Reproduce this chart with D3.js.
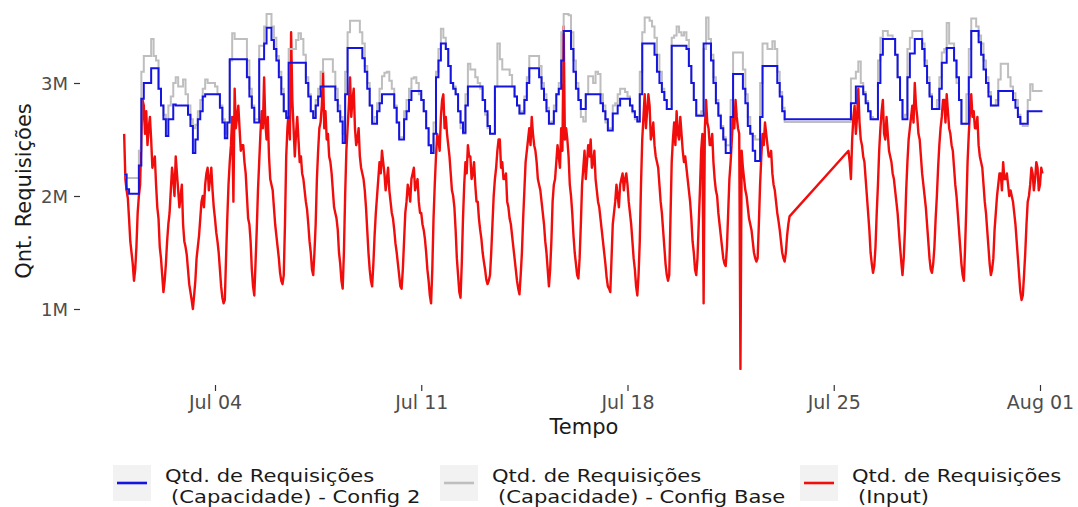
<!DOCTYPE html>
<html>
<head>
<meta charset="utf-8">
<script src="https://cdn.jsdelivr.net/npm/d3@7"></script>
<style>
  body { margin: 0; background: #fff; }
  svg { display: block; }
  text { font-family: "DejaVu Sans", sans-serif; }
</style>
</head>
<body>
<svg id="chart" width="1078" height="507"></svg>
<script>
// Series sampled every 2 hours (UTC), values in millions of requests.
const seriesStart = "2021-06-30T22:00:00Z";
const stepHours = 2;

// Input requests at even hours; null marks hours with no data (the line bridges them).
const inputReq = [
  2.55,
  /* Jul 01 */ 2.05,1.8,1.5,1.25,1.55,2.0,2.5,2.8,2.75,2.6,2.5,2.3,
  /* Jul 02 */ 2.1,1.8,1.45,1.15,1.4,1.75,2.05,2.15,2.35,2.05,2.0,1.75,
  /* Jul 03 */ 1.55,1.35,1.15,1.0,1.25,1.55,1.8,2.0,2.1,2.25,2.15,2.05,
  /* Jul 04 */ 1.8,1.6,1.35,1.1,1.08,1.8,2.3,2.7,2.95,2.7,2.6,2.45,
  /* Jul 05 */ 2.3,2.0,1.75,1.35,1.12,1.7,2.3,2.75,3.05,2.5,2.35,2.1,
  /* Jul 06 */ 1.9,1.65,1.45,1.25,1.3,2.35,2.75,3.45,2.6,2.55,2.5,2.35,
  /* Jul 07 */ 2.15,1.95,1.75,1.5,1.3,1.75,2.4,2.65,3.1,2.75,2.55,2.3,
  /* Jul 08 */ 2.05,1.85,1.7,1.4,1.18,2.0,2.6,3.05,2.85,2.6,2.5,2.35,
  /* Jul 09 */ 2.2,2.05,1.7,1.35,1.2,1.65,2.0,2.3,2.4,2.2,2.15,2.05,
  /* Jul 10 */ 1.85,1.7,1.5,1.3,1.18,1.6,1.95,2.05,2.15,2.25,2.1,1.95,
  /* Jul 11 */ 1.85,1.7,1.5,1.25,1.05,1.8,2.35,2.5,2.7,2.9,2.7,2.45,
  /* Jul 12 */ 2.2,2.0,1.7,1.3,1.1,1.8,2.3,2.45,2.35,2.2,2.1,1.95,
  /* Jul 13 */ 1.7,1.5,1.35,1.22,1.3,1.75,2.15,2.4,2.5,2.3,2.15,1.95,
  /* Jul 14 */ 1.8,1.65,1.45,1.25,1.13,1.5,2.05,2.4,2.6,2.7,2.45,2.3,
  /* Jul 15 */ 2.1,1.95,1.75,1.5,1.2,1.6,2.1,2.3,2.35,2.6,3.5,2.6,
  /* Jul 16 */ 2.35,2.0,1.65,1.4,1.27,1.75,2.25,2.15,2.45,2.5,2.3,2.15,
  /* Jul 17 */ 1.95,1.8,1.6,1.4,1.2,1.15,1.75,1.95,2.0,2.1,2.2,2.15,
  /* Jul 18 */ 2.1,1.85,1.6,1.35,1.12,1.6,2.5,2.9,2.75,2.8,2.55,2.45,
  /* Jul 19 */ 2.3,2.1,1.85,1.55,1.3,1.3,2.3,2.65,2.75,2.5,2.55,2.3,
  /* Jul 20 */ 2.25,2.05,1.8,1.5,1.3,1.75,2.4,1.05,2.85,2.6,2.45,2.3,
  /* Jul 21 */ 2.05,1.85,1.65,1.45,1.38,1.85,2.3,2.7,2.85,2.6,0.47,2.25,
  /* Jul 22 */ 2.05,1.9,1.75,1.6,1.45,1.45,2.1,2.55,2.65,2.45,2.35,2.2,
  /* Jul 23 */ 2.05,1.85,1.7,1.5,1.42,1.65,1.82,null,null,null,null,null,
  /* Jul 24 */ null,null,null,null,null,null,null,null,null,null,null,null,
  /* Jul 25 */ null,null,null,null,null,null,2.4,2.15,2.7,2.55,2.95,2.5,
  /* Jul 26 */ 2.35,2.15,1.85,1.5,1.32,1.55,2.1,2.6,2.85,2.5,2.55,2.35,
  /* Jul 27 */ 2.2,2.05,1.85,1.55,1.3,1.7,2.3,2.6,2.8,3.0,2.7,2.5,
  /* Jul 28 */ 2.2,2.0,1.75,1.45,1.32,1.55,2.0,2.45,2.7,2.85,2.9,2.6,
  /* Jul 29 */ 2.45,2.25,2.0,1.7,1.4,1.25,1.9,2.55,2.9,2.75,2.6,2.45,
  /* Jul 30 */ 2.3,2.1,1.85,1.55,1.3,1.45,1.85,2.1,2.2,2.3,2.15,2.1,
  /* Jul 31 */ 2.05,1.95,1.75,1.45,1.15,1.12,1.5,1.95,2.1,2.2,2.15,2.25,
  /* Aug 01 */ 2.1,2.2
];

// Input requests at the odd hours in between (hourly jitter).
const inputReqOdd = [
  2.15,
  /* Jul 01 */ 1.98,1.6,1.4,1.35,1.85,2.1,2.85,2.55,2.45,2.7,2.25,2.35,
  /* Jul 02 */ 1.9,1.55,1.3,1.25,1.6,1.85,2.25,2.0,2.2,1.9,2.1,1.6,
  /* Jul 03 */ 1.48,1.22,1.08,1.12,1.45,1.65,1.95,1.9,2.2,2.05,2.25,1.9,
  /* Jul 04 */ 1.68,1.5,1.2,1.05,1.45,2.1,2.45,1.95,2.6,2.8,2.4,2.45,
  /* Jul 05 */ 2.2,1.8,1.6,1.2,1.4,2.05,2.55,2.6,2.65,2.7,2.15,2.05,
  /* Jul 06 */ 1.75,1.55,1.32,1.22,1.75,2.6,2.5,2.85,2.35,2.7,2.3,2.2,
  /* Jul 07 */ 2.05,1.88,1.6,1.35,1.5,2.15,2.6,2.8,2.6,2.5,2.35,2.2,
  /* Jul 08 */ 1.9,1.8,1.5,1.25,1.5,2.4,2.8,2.7,2.95,2.45,2.6,2.25,
  /* Jul 09 */ 2.15,1.9,1.5,1.25,1.4,1.85,2.15,2.2,2.3,2.05,2.25,1.95,
  /* Jul 10 */ 1.8,1.58,1.4,1.2,1.35,1.85,2.1,1.95,2.2,2.05,2.15,1.85,
  /* Jul 11 */ 1.75,1.62,1.35,1.12,1.35,2.1,2.55,2.4,2.85,2.6,2.55,2.35,
  /* Jul 12 */ 2.05,1.9,1.45,1.15,1.4,2.1,2.2,2.35,2.15,2.3,1.95,1.8,
  /* Jul 13 */ 1.62,1.42,1.26,1.25,1.5,2.0,2.25,2.5,2.25,2.15,2.2,1.9,
  /* Jul 14 */ 1.75,1.55,1.35,1.18,1.3,1.8,2.3,2.5,2.45,2.55,2.4,2.15,
  /* Jul 15 */ 2.05,1.85,1.6,1.35,1.35,1.95,2.15,2.45,2.25,2.4,2.5,2.5,
  /* Jul 16 */ 2.1,1.85,1.5,1.3,1.45,2.1,2.4,2.3,2.35,2.25,2.4,2.05,
  /* Jul 17 */ 1.9,1.7,1.5,1.28,1.18,1.45,1.85,2.1,1.9,2.15,2.05,2.2,
  /* Jul 18 */ 1.95,1.75,1.45,1.2,1.3,2.1,2.7,2.6,2.9,2.5,2.65,2.35,
  /* Jul 19 */ 2.25,1.95,1.7,1.4,1.25,1.8,2.5,2.45,2.55,2.7,2.4,2.35,
  /* Jul 20 */ 2.15,1.95,1.6,1.35,1.45,2.05,2.55,2.6,2.65,2.45,2.55,2.15,
  /* Jul 21 */ 2.0,1.75,1.55,1.4,1.55,2.15,2.5,2.6,2.7,2.55,2.4,2.15,
  /* Jul 22 */ 2.0,1.8,1.7,1.5,1.42,1.75,2.35,2.45,2.55,2.35,2.4,2.1,
  /* Jul 23 */ 1.95,1.78,1.6,1.45,1.5,1.75,null,null,null,null,null,null,
  /* Jul 24 */ null,null,null,null,null,null,null,null,null,null,null,null,
  /* Jul 25 */ null,null,null,null,null,null,2.3,2.5,2.8,2.7,2.65,2.45,
  /* Jul 26 */ 2.3,2.0,1.7,1.4,1.38,1.85,2.4,2.75,2.55,2.7,2.4,2.3,
  /* Jul 27 */ 2.15,1.95,1.7,1.42,1.45,2.05,2.5,2.7,2.65,2.8,2.55,2.35,
  /* Jul 28 */ 2.1,1.9,1.6,1.35,1.4,1.8,2.25,2.6,2.85,2.65,2.75,2.55,
  /* Jul 29 */ 2.4,2.1,1.85,1.55,1.3,1.55,2.3,2.75,2.7,2.6,2.7,2.35,
  /* Jul 30 */ 2.25,1.95,1.7,1.4,1.35,1.7,2.0,2.2,2.05,2.15,2.2,2.0,
  /* Jul 31 */ 2.0,1.85,1.6,1.3,1.08,1.3,1.75,2.0,2.25,2.05,2.3,2.05,
  /* Aug 01 */ 2.25
];

// Provisioned capacity, Config 2 (held constant between samples).
const capConfig2 = [
  2.19,
  /* Jul 01 */ 2.06,2.02,2.02,2.02,2.02,2.27,2.86,3.0,3.0,3.0,3.13,3.13,
  /* Jul 02 */ 3.13,2.95,2.8,2.68,2.53,2.68,2.68,2.81,2.8,2.8,2.8,2.8,
  /* Jul 03 */ 2.8,2.72,2.62,2.38,2.5,2.68,2.75,2.88,2.9,2.9,2.9,2.9,
  /* Jul 04 */ 2.9,2.9,2.78,2.65,2.51,2.65,3.21,3.21,3.21,3.21,3.21,3.21,
  /* Jul 05 */ 3.21,3.05,2.88,2.78,2.65,2.65,3.21,3.21,3.35,3.49,3.49,3.38,
  /* Jul 06 */ 3.3,3.2,3.05,2.9,2.75,2.69,3.18,3.18,3.18,3.18,3.18,3.18,
  /* Jul 07 */ 3.18,3.0,2.88,2.75,2.69,2.8,2.88,2.97,2.97,2.97,2.97,2.97,
  /* Jul 08 */ 2.97,2.85,2.75,2.66,2.47,2.9,3.31,3.31,3.31,3.31,3.31,3.31,
  /* Jul 09 */ 3.22,3.1,2.95,2.8,2.64,2.64,2.75,2.82,2.9,2.9,2.9,2.9,
  /* Jul 10 */ 2.9,2.78,2.65,2.5,2.5,2.68,2.75,2.85,2.93,2.93,2.93,2.93,
  /* Jul 11 */ 2.85,2.75,2.6,2.45,2.38,2.55,3.05,3.2,3.35,3.35,3.3,3.15,
  /* Jul 12 */ 3.0,2.95,2.9,2.75,2.65,2.56,2.8,2.97,2.97,2.97,2.97,2.97,
  /* Jul 13 */ 2.97,2.85,2.75,2.62,2.55,2.55,2.97,2.97,2.97,2.97,2.97,2.97,
  /* Jul 14 */ 2.97,2.97,2.88,2.8,2.73,2.73,2.85,3.0,3.13,3.13,3.13,3.13,
  /* Jul 15 */ 3.05,2.95,2.85,2.75,2.64,2.64,2.75,2.9,2.95,3.2,3.46,3.46,
  /* Jul 16 */ 3.46,3.3,3.1,2.95,2.85,2.77,2.77,2.9,2.9,2.9,2.9,2.9,
  /* Jul 17 */ 2.9,2.82,2.75,2.68,2.58,2.58,2.73,2.73,2.8,2.86,2.86,2.86,
  /* Jul 18 */ 2.86,2.8,2.75,2.7,2.66,2.9,3.35,3.35,3.35,3.35,3.35,3.25,
  /* Jul 19 */ 3.1,3.0,2.92,2.85,2.77,2.77,3.33,3.33,3.33,3.33,3.33,3.33,
  /* Jul 20 */ 3.3,3.15,3.0,2.85,2.71,2.71,2.71,3.35,3.35,3.35,3.2,3.0,
  /* Jul 21 */ 2.82,2.71,2.6,2.5,2.38,2.38,2.7,3.08,3.08,3.08,3.08,2.95,
  /* Jul 22 */ 2.82,2.62,2.55,2.4,2.31,2.31,2.7,3.15,3.15,3.15,3.15,3.15,
  /* Jul 23 */ 3.15,3.0,2.88,2.75,2.68,2.68,2.68,2.68,2.68,2.68,2.68,2.68,
  /* Jul 24 */ 2.68,2.68,2.68,2.68,2.68,2.68,2.68,2.68,2.68,2.68,2.68,2.68,
  /* Jul 25 */ 2.68,2.68,2.68,2.68,2.68,2.68,2.68,2.82,2.82,2.97,2.97,2.97,
  /* Jul 26 */ 2.9,2.82,2.75,2.68,2.68,2.68,3.0,3.25,3.39,3.39,3.39,3.39,
  /* Jul 27 */ 3.39,3.25,3.05,2.85,2.68,2.68,3.05,3.26,3.26,3.39,3.39,3.39,
  /* Jul 28 */ 3.3,3.15,3.0,2.88,2.77,2.77,2.77,2.95,3.18,3.18,3.31,3.31,
  /* Jul 29 */ 3.31,3.2,3.05,2.85,2.64,2.64,2.64,3.05,3.46,3.46,3.46,3.36,
  /* Jul 30 */ 3.25,3.12,3.0,2.88,2.8,2.8,2.8,2.93,2.93,2.93,2.93,2.93,
  /* Jul 31 */ 2.93,2.85,2.78,2.7,2.64,2.64,2.64,2.75,2.75,2.75,2.75,2.75,
  /* Aug 01 */ 2.75,2.75
];

// Provisioned capacity, base configuration.
const capConfigBase = [
  2.19,
  /* Jul 01 */ 2.16,2.16,2.16,2.16,2.16,2.4,3.1,3.24,3.24,3.24,3.39,3.24,
  /* Jul 02 */ 3.2,2.95,2.8,2.72,2.68,2.8,2.88,3.0,3.05,2.97,2.97,3.03,
  /* Jul 03 */ 2.9,2.8,2.68,2.6,2.63,2.75,2.85,2.95,3.03,3.0,3.0,3.0,
  /* Jul 04 */ 2.97,2.9,2.8,2.68,2.55,2.65,3.2,3.44,3.39,3.39,3.39,3.39,
  /* Jul 05 */ 3.39,3.2,2.95,2.8,2.68,2.68,3.33,3.33,3.5,3.61,3.61,3.5,
  /* Jul 06 */ 3.4,3.24,3.1,2.95,2.75,2.72,3.3,3.3,3.3,3.38,3.44,3.39,
  /* Jul 07 */ 3.25,3.05,2.9,2.75,2.7,2.85,2.95,3.1,3.21,3.21,3.21,3.21,
  /* Jul 08 */ 3.1,2.95,2.8,2.7,2.55,3.1,3.45,3.55,3.55,3.55,3.55,3.45,
  /* Jul 09 */ 3.35,3.15,3.0,2.8,2.65,2.7,2.82,2.95,3.06,3.09,3.1,3.02,
  /* Jul 10 */ 2.95,2.8,2.65,2.52,2.52,2.75,2.85,2.95,3.04,3.05,3.0,2.9,
  /* Jul 11 */ 2.85,2.75,2.6,2.45,2.38,2.65,3.1,3.3,3.48,3.4,3.3,3.15,
  /* Jul 12 */ 3.0,2.97,2.9,2.75,2.6,2.55,2.9,3.17,3.12,3.12,3.05,3.0,
  /* Jul 13 */ 2.95,2.85,2.72,2.6,2.55,2.55,2.97,3.35,3.21,3.12,3.12,3.12,
  /* Jul 14 */ 3.07,2.97,2.88,2.8,2.73,2.75,2.88,3.05,3.24,3.24,3.24,3.24,
  /* Jul 15 */ 3.15,3.0,2.9,2.78,2.65,2.66,2.8,2.9,3.0,3.45,3.61,3.61,
  /* Jul 16 */ 3.6,3.45,3.2,3.0,2.85,2.7,2.66,2.9,3.06,3.06,3.0,3.1,
  /* Jul 17 */ 3.08,2.9,2.8,2.65,2.6,2.6,2.8,2.82,2.9,2.95,2.95,2.92,
  /* Jul 18 */ 2.88,2.8,2.74,2.68,2.66,3.1,3.45,3.58,3.58,3.55,3.5,3.4,
  /* Jul 19 */ 3.25,3.1,2.95,2.85,2.77,2.77,3.4,3.42,3.5,3.45,3.42,3.45,
  /* Jul 20 */ 3.38,3.15,3.0,2.85,2.72,2.72,2.75,3.3,3.58,3.39,3.25,3.05,
  /* Jul 21 */ 2.85,2.72,2.62,2.52,2.45,2.45,2.85,3.27,3.27,3.27,3.27,3.12,
  /* Jul 22 */ 2.9,2.7,2.55,2.53,2.5,2.5,3.0,3.35,3.35,3.3,3.3,3.37,
  /* Jul 23 */ 3.3,3.1,2.92,2.78,2.655,2.655,2.655,2.655,2.655,2.655,2.655,2.655,
  /* Jul 24 */ 2.655,2.655,2.655,2.655,2.655,2.655,2.655,2.655,2.655,2.655,2.655,2.655,
  /* Jul 25 */ 2.655,2.655,2.655,2.655,2.655,2.655,2.655,3.04,3.04,3.1,3.19,3.0,
  /* Jul 26 */ 2.92,2.84,2.75,2.7,2.68,2.68,3.2,3.4,3.46,3.46,3.42,3.42,
  /* Jul 27 */ 3.39,3.25,3.05,2.85,2.7,2.72,3.3,3.4,3.46,3.46,3.46,3.46,
  /* Jul 28 */ 3.35,3.2,3.05,2.9,2.77,2.77,2.85,3.05,3.27,3.3,3.53,3.35,
  /* Jul 29 */ 3.35,3.2,3.0,2.85,2.64,2.64,2.9,3.3,3.57,3.57,3.5,3.42,
  /* Jul 30 */ 3.35,3.2,3.05,2.92,2.8,2.8,2.85,3.03,3.17,3.17,3.17,3.05,
  /* Jul 31 */ 2.97,2.91,2.85,2.72,2.64,2.62,2.62,2.85,2.99,2.93,2.93,2.93,
  /* Aug 01 */ 2.93,2.93
];

const xTickDates = ["2021-07-04", "2021-07-11", "2021-07-18", "2021-07-25", "2021-08-01"];
const yTickValues = [1, 2, 3];

const legendLabels = [
  ["Qtd. de Requisições", "(Capacidade) - Config 2"],
  ["Qtd. de Requisições", "(Capacidade) - Config Base"],
  ["Qtd. de Requisições", "(Input)"]
];
const legendColors = ["#1515e0", "#bebebe", "#f20d0d"];

const svg = d3.select("#chart");
const t0 = new Date(seriesStart).getTime();
const HOUR = 3600e3;
const toPoints = arr => arr.map((v, i) => ({ t: new Date(t0 + i * stepHours * HOUR), v }));

// Interleave even-hour and odd-hour input samples into one hourly series
const inputPoints = [];
inputReq.forEach((v, i) => {
  inputPoints.push({ t: new Date(t0 + i * stepHours * HOUR), v });
  if (i < inputReqOdd.length) {
    inputPoints.push({ t: new Date(t0 + i * stepHours * HOUR + HOUR), v: inputReqOdd[i] });
  }
});

const x = d3.scaleUtc()
  .domain([new Date("2021-07-04T00:00:00Z"), new Date("2021-08-01T00:00:00Z")])
  .range([215, 1040]);
const y = d3.scaleLinear().domain([1, 3]).range([309, 83]);

const stepLine = d3.line().x(d => x(d.t)).y(d => y(d.v)).curve(d3.curveStepAfter);
const plainLine = d3.line().x(d => x(d.t)).y(d => y(d.v));

const plot = svg.append("g");

// Input demand (gap hours dropped so the segment is joined straight)
plot.append("path")
  .datum(inputPoints.filter(d => d.v !== null))
  .attr("fill", "none").attr("stroke", legendColors[2])
  .attr("stroke-width", 2.4).attr("stroke-linejoin", "round")
  .attr("d", plainLine);

plot.append("path")
  .datum(toPoints(capConfigBase))
  .attr("fill", "none").attr("stroke", legendColors[1])
  .attr("stroke-width", 2).attr("d", stepLine);

plot.append("path")
  .datum(toPoints(capConfig2))
  .attr("fill", "none").attr("stroke", legendColors[0])
  .attr("stroke-width", 2).attr("d", stepLine);

// Axes
const yAxis = svg.append("g").attr("transform", "translate(80,0)")
  .call(d3.axisLeft(y).tickValues(yTickValues).tickFormat(d => d + "M").tickSize(6).tickPadding(6));
const xAxis = svg.append("g").attr("transform", "translate(0,385)")
  .call(d3.axisBottom(x).tickValues(xTickDates.map(s => new Date(s + "T00:00:00Z")))
    .tickFormat(d3.utcFormat("%b %d")).tickSize(6).tickPadding(5));
[yAxis, xAxis].forEach(g => {
  g.select(".domain").remove();
  g.selectAll(".tick line").attr("stroke", "#333").attr("stroke-width", 1.2);
  g.selectAll(".tick text").attr("fill", "#4d4d4d")
    .style("font-family", "'DejaVu Sans', sans-serif");
});
yAxis.selectAll(".tick text").style("font-size", "18px").attr("dy", "0.36em");
xAxis.selectAll(".tick text").style("font-size", "19px");

svg.append("text").attr("transform", "translate(31,191) rotate(-90)")
  .attr("text-anchor", "middle").style("font-size", "21px").attr("fill", "#1a1a1a")
  .text("Qnt. Requisições");
svg.append("text").attr("x", 584).attr("y", 434)
  .attr("text-anchor", "middle").style("font-size", "21px").attr("fill", "#1a1a1a")
  .text("Tempo");

// Legend: grey key boxes with a line sample, two-line labels (slightly wide type)
const legendX = [113, 440, 800];
const legendLineOffset = [52, 58];
const legendBaselines = [16.5, 38];
const legend = svg.append("g");
legendLabels.forEach((lines, i) => {
  const g = legend.append("g").attr("transform", `translate(${legendX[i]},465)`);
  g.append("rect").attr("width", 38).attr("height", 36).attr("fill", "#f2f2f2");
  g.append("line").attr("x1", 4).attr("x2", 34).attr("y1", 18).attr("y2", 18)
    .attr("stroke", legendColors[i]).attr("stroke-width", 2.6);
  lines.forEach((s, j) => {
    const t = g.append("text").attr("x", legendLineOffset[j]).attr("y", legendBaselines[j])
      .style("font-size", "18.5px").attr("fill", "#1a1a1a").text(s);
    const w = t.node().getComputedTextLength();
    t.attr("textLength", w * 1.14).attr("lengthAdjust", "spacingAndGlyphs");
  });
});
</script>
</body>
</html>
